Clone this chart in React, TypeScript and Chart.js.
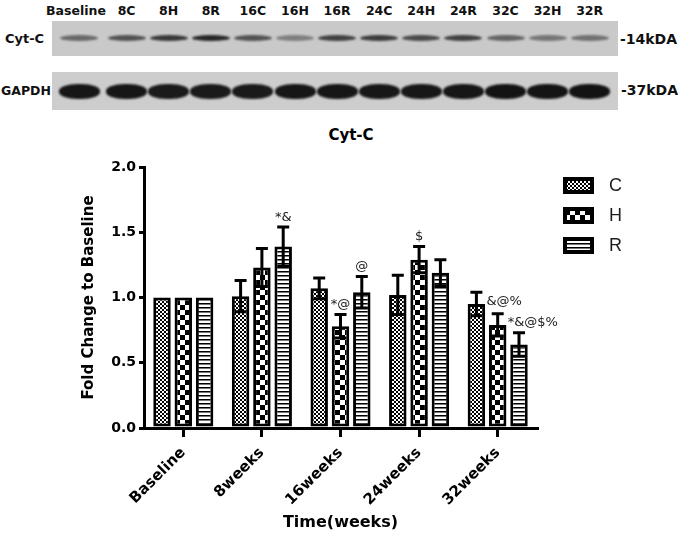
import React, { useEffect, useRef } from 'react';
import { Chart, registerables } from 'chart.js';

Chart.register(...registerables);

// ---------- data ----------
const categories = ['Baseline', '8weeks', '16weeks', '24weeks', '32weeks'];
const seriesLabels = ['C', 'H', 'R'];
const valuesC = [1.0, 1.01, 1.07, 1.02, 0.95];
const valuesH = [1.0, 1.23, 0.78, 1.29, 0.79];
const valuesR = [1.0, 1.39, 1.04, 1.19, 0.64];
const errC = [0, 0.12, 0.08, 0.15, 0.09];
const errH = [0, 0.145, 0.09, 0.1, 0.085];
const errR = [0, 0.15, 0.12, 0.1, 0.09];
const yTicks = [0, 0.5, 1.0, 1.5, 2.0];
const annotC = ['', '', '', '', '&@%'];
const annotH = ['', '', '*@', '$', '*&@$%'];
const annotR = ['', '*&', '@', '', ''];
const annotBeside = [false, false, false, false, true];

// western blot
const laneLabels = ['Baseline', '8C', '8H', '8R', '16C', '16H', '16R', '24C', '24H', '24R', '32C', '32H', '32R'];
const cytcBand = [0.55, 0.68, 0.82, 0.92, 0.68, 0.42, 0.78, 0.8, 0.72, 0.78, 0.58, 0.48, 0.5];
const gapdhBand = [0.95, 0.95, 0.93, 0.93, 0.93, 0.95, 0.95, 0.94, 0.94, 0.95, 0.97, 0.96, 0.97];

const FONT = "'DejaVu Sans', sans-serif";

function makePattern(kind: string, ctx: CanvasRenderingContext2D): CanvasPattern | string {
  const c = document.createElement('canvas');
  const g = c.getContext('2d')!;
  if (kind === 'C') {
    c.width = 4; c.height = 4;
    g.fillStyle = '#fff'; g.fillRect(0, 0, 4, 4);
    g.fillStyle = '#000';
    g.fillRect(0, 0, 2, 2); g.fillRect(2, 2, 2, 2);
  } else if (kind === 'H') {
    c.width = 10; c.height = 10;
    g.fillStyle = '#fff'; g.fillRect(0, 0, 10, 10);
    g.fillStyle = '#000';
    g.fillRect(0, 0, 5, 5); g.fillRect(5, 5, 5, 5);
  } else {
    c.width = 4; c.height = 4;
    g.fillStyle = '#fff'; g.fillRect(0, 0, 4, 4);
    g.fillStyle = '#000'; g.fillRect(0, 0, 4, 1);
    g.fillStyle = '#777'; g.fillRect(0, 1, 4, 1);
  }
  return ctx.createPattern(c, 'repeat') || '#888';
}

const errorBarPlugin = {
  id: 'errorBars',
  afterDatasetsDraw(chart: any) {
    const ctx = chart.ctx;
    const y = chart.scales.y;
    chart.data.datasets.forEach((ds: any, i: number) => {
      const meta = chart.getDatasetMeta(i);
      meta.data.forEach((el: any, j: number) => {
        const e = ds.errors[j];
        if (!e) return;
        const v = ds.data[j];
        const yTop = y.getPixelForValue(v + e);
        const yBot = y.getPixelForValue(v - e);
        const half = 6;
        ctx.save();
        ctx.strokeStyle = '#000';
        ctx.lineWidth = 3;
        ctx.beginPath();
        ctx.moveTo(el.x, yTop); ctx.lineTo(el.x, yBot);
        ctx.moveTo(el.x - half, yTop); ctx.lineTo(el.x + half, yTop);
        ctx.moveTo(el.x - half, yBot); ctx.lineTo(el.x + half, yBot);
        ctx.stroke();
        ctx.restore();
      });
    });
  },
};

const annotationPlugin = {
  id: 'annots',
  afterDatasetsDraw(chart: any) {
    const ctx = chart.ctx;
    const y = chart.scales.y;
    ctx.save();
    ctx.fillStyle = '#1a1a1a';
    ctx.font = `13px ${FONT}`;
    chart.data.datasets.forEach((ds: any, i: number) => {
      const meta = chart.getDatasetMeta(i);
      meta.data.forEach((el: any, j: number) => {
        const t = ds.annots[j];
        if (!t) return;
        if (annotBeside[j]) {
          ctx.textAlign = 'left';
          ctx.textBaseline = 'middle';
          ctx.fillText(t, el.x + 10, y.getPixelForValue(ds.data[j]) - 2);
        } else {
          ctx.textAlign = 'center';
          ctx.textBaseline = 'bottom';
          ctx.fillText(t, el.x, y.getPixelForValue(ds.data[j] + ds.errors[j]) - 3);
        }
      });
    });
    ctx.restore();
  },
};

const legendPlugin = {
  id: 'patternLegend',
  afterDraw(chart: any) {
    const ctx = chart.ctx;
    const area = chart.chartArea;
    const x0 = area.right + 26;
    let y0 = area.top + 10;
    ctx.save();
    chart.data.datasets.forEach((ds: any) => {
      ctx.fillStyle = ds.backgroundColor;
      ctx.fillRect(x0, y0, 31, 17);
      ctx.strokeStyle = '#000';
      ctx.lineWidth = 4;
      ctx.strokeRect(x0 + 2, y0 + 2, 27, 13);
      ctx.fillStyle = '#1e1e1e';
      ctx.font = `18px 'Liberation Sans', Arial, sans-serif`;
      ctx.textAlign = 'left';
      ctx.textBaseline = 'middle';
      ctx.fillText(ds.label, x0 + 46, y0 + 9);
      y0 += 30;
    });
    ctx.restore();
  },
};

function Blot() {
  const left = 52;
  const right = 618;
  const laneX = (i: number) => (i === 0 ? 79 : 84.5 + 42.1 * i);
  return (
    <div style={{ position: 'absolute', left: 0, top: 0, width: 678, height: 115 }}>
      {laneLabels.map((l, i) => (
        <div key={l} style={{ position: 'absolute', left: laneX(i) - 40 - (i === 0 ? 3 : 0), width: 80, top: 3, textAlign: 'center', font: `bold 12.5px ${FONT}`, lineHeight: '16px', color: '#111' }}>{l}</div>
      ))}
      <div style={{ position: 'absolute', left, top: 21, width: right - left, height: 35, background: '#c9c9c9', overflow: 'hidden' }}>
        {cytcBand.map((a, i) => (
          <div key={i} style={{ position: 'absolute', left: laneX(i) - left - 19, top: 13.5, width: 38, height: 6, borderRadius: '50%', background: `rgba(25,25,25,${a})`, filter: 'blur(1.3px)' }} />
        ))}
      </div>
      <div style={{ position: 'absolute', left, top: 72, width: right - left, height: 38, background: '#cdcdcd', overflow: 'hidden' }}>
        {gapdhBand.map((a, i) => (
          <div key={i} style={{ position: 'absolute', left: laneX(i) - left - 20.5, top: 11.5, width: 41, height: 15, borderRadius: '45%', background: `rgba(12,12,12,${a})`, filter: 'blur(1px)' }} />
        ))}
      </div>
      <div style={{ position: 'absolute', left: 5, top: 31, font: `bold 13px ${FONT}`, color: '#111' }}>Cyt-C</div>
      <div style={{ position: 'absolute', left: 1, top: 83, font: `bold 12.5px ${FONT}`, color: '#111' }}>GAPDH</div>
      <div style={{ position: 'absolute', left: 620, top: 31, font: `bold 14px ${FONT}`, color: '#111' }}>-14kDA</div>
      <div style={{ position: 'absolute', left: 621, top: 82, font: `bold 14px ${FONT}`, color: '#111' }}>-37kDA</div>
    </div>
  );
}

export default function App() {
  const ref = useRef<HTMLCanvasElement | null>(null);
  useEffect(() => {
    const canvas = ref.current!;
    const ctx = canvas.getContext('2d')!;
    const pats = ['C', 'H', 'R'].map((k) => makePattern(k, ctx));
    const vals = [valuesC, valuesH, valuesR];
    const errs = [errC, errH, errR];
    const ann = [annotC, annotH, annotR];
    const chart = new Chart(canvas, {
      type: 'bar',
      data: {
        labels: categories,
        datasets: seriesLabels.map((lab, i) => ({
          label: lab,
          data: vals[i],
          errors: errs[i],
          annots: ann[i],
          backgroundColor: pats[i],
          borderColor: '#000',
          borderWidth: 3,
          borderSkipped: false,
          categoryPercentage: 0.813,
          barPercentage: 0.82,
        })) as any,
      },
      options: {
        responsive: false,
        animation: false,
        devicePixelRatio: 1,
        layout: { padding: { left: 80, right: 141, top: 52, bottom: 11 } },
        plugins: { legend: { display: false }, title: { display: false }, tooltip: { enabled: false } },
        scales: {
          x: {
            grid: { display: true, drawOnChartArea: false, drawTicks: true, tickLength: 9, lineWidth: 3, color: '#000', offset: false },
            border: { display: true, width: 3, color: '#000' },
            ticks: { color: '#000', font: { family: FONT, weight: 'bold', size: 15 }, maxRotation: 45, minRotation: 45, padding: 7 },
            title: { display: true, text: 'Time(weeks)', color: '#000', font: { family: FONT, weight: 'bold', size: 16 }, padding: { top: 0, bottom: 0 } },
            afterFit: (s: any) => { s.height = 104; },
          },
          y: {
            min: 0,
            max: 2,
            afterBuildTicks: (s: any) => { s.ticks = yTicks.map((v) => ({ value: v })); },
            grid: { display: true, drawOnChartArea: false, drawTicks: true, tickLength: 5, lineWidth: 3, color: '#000' },
            border: { display: true, width: 3, color: '#000' },
            ticks: { color: '#000', font: { family: FONT, weight: 'bold', size: 14 }, padding: 3, callback: (v: any) => Number(v).toFixed(1) },
            title: { display: true, text: 'Fold Change to Baseline', color: '#000', font: { family: FONT, weight: 'bold', size: 15 }, padding: { top: 0, bottom: 0 } },
            afterFit: (s: any) => { s.width = 64; },
          },
        },
      } as any,
      plugins: [errorBarPlugin, annotationPlugin, legendPlugin],
    });
    return () => chart.destroy();
  }, []);

  return (
    <div style={{ position: 'absolute', left: 0, top: 0, width: 678, height: 543, background: '#fff', overflow: 'hidden' }}>
      <Blot />
      <div style={{ position: 'absolute', left: 0, width: 702, top: 126, textAlign: 'center', font: `bold 15px ${FONT}`, lineHeight: '18px', color: '#000' }}>Cyt-C</div>
      <canvas ref={ref} width={678} height={428} style={{ position: 'absolute', left: 0, top: 115, width: 678, height: 428 }} />
    </div>
  );
}
